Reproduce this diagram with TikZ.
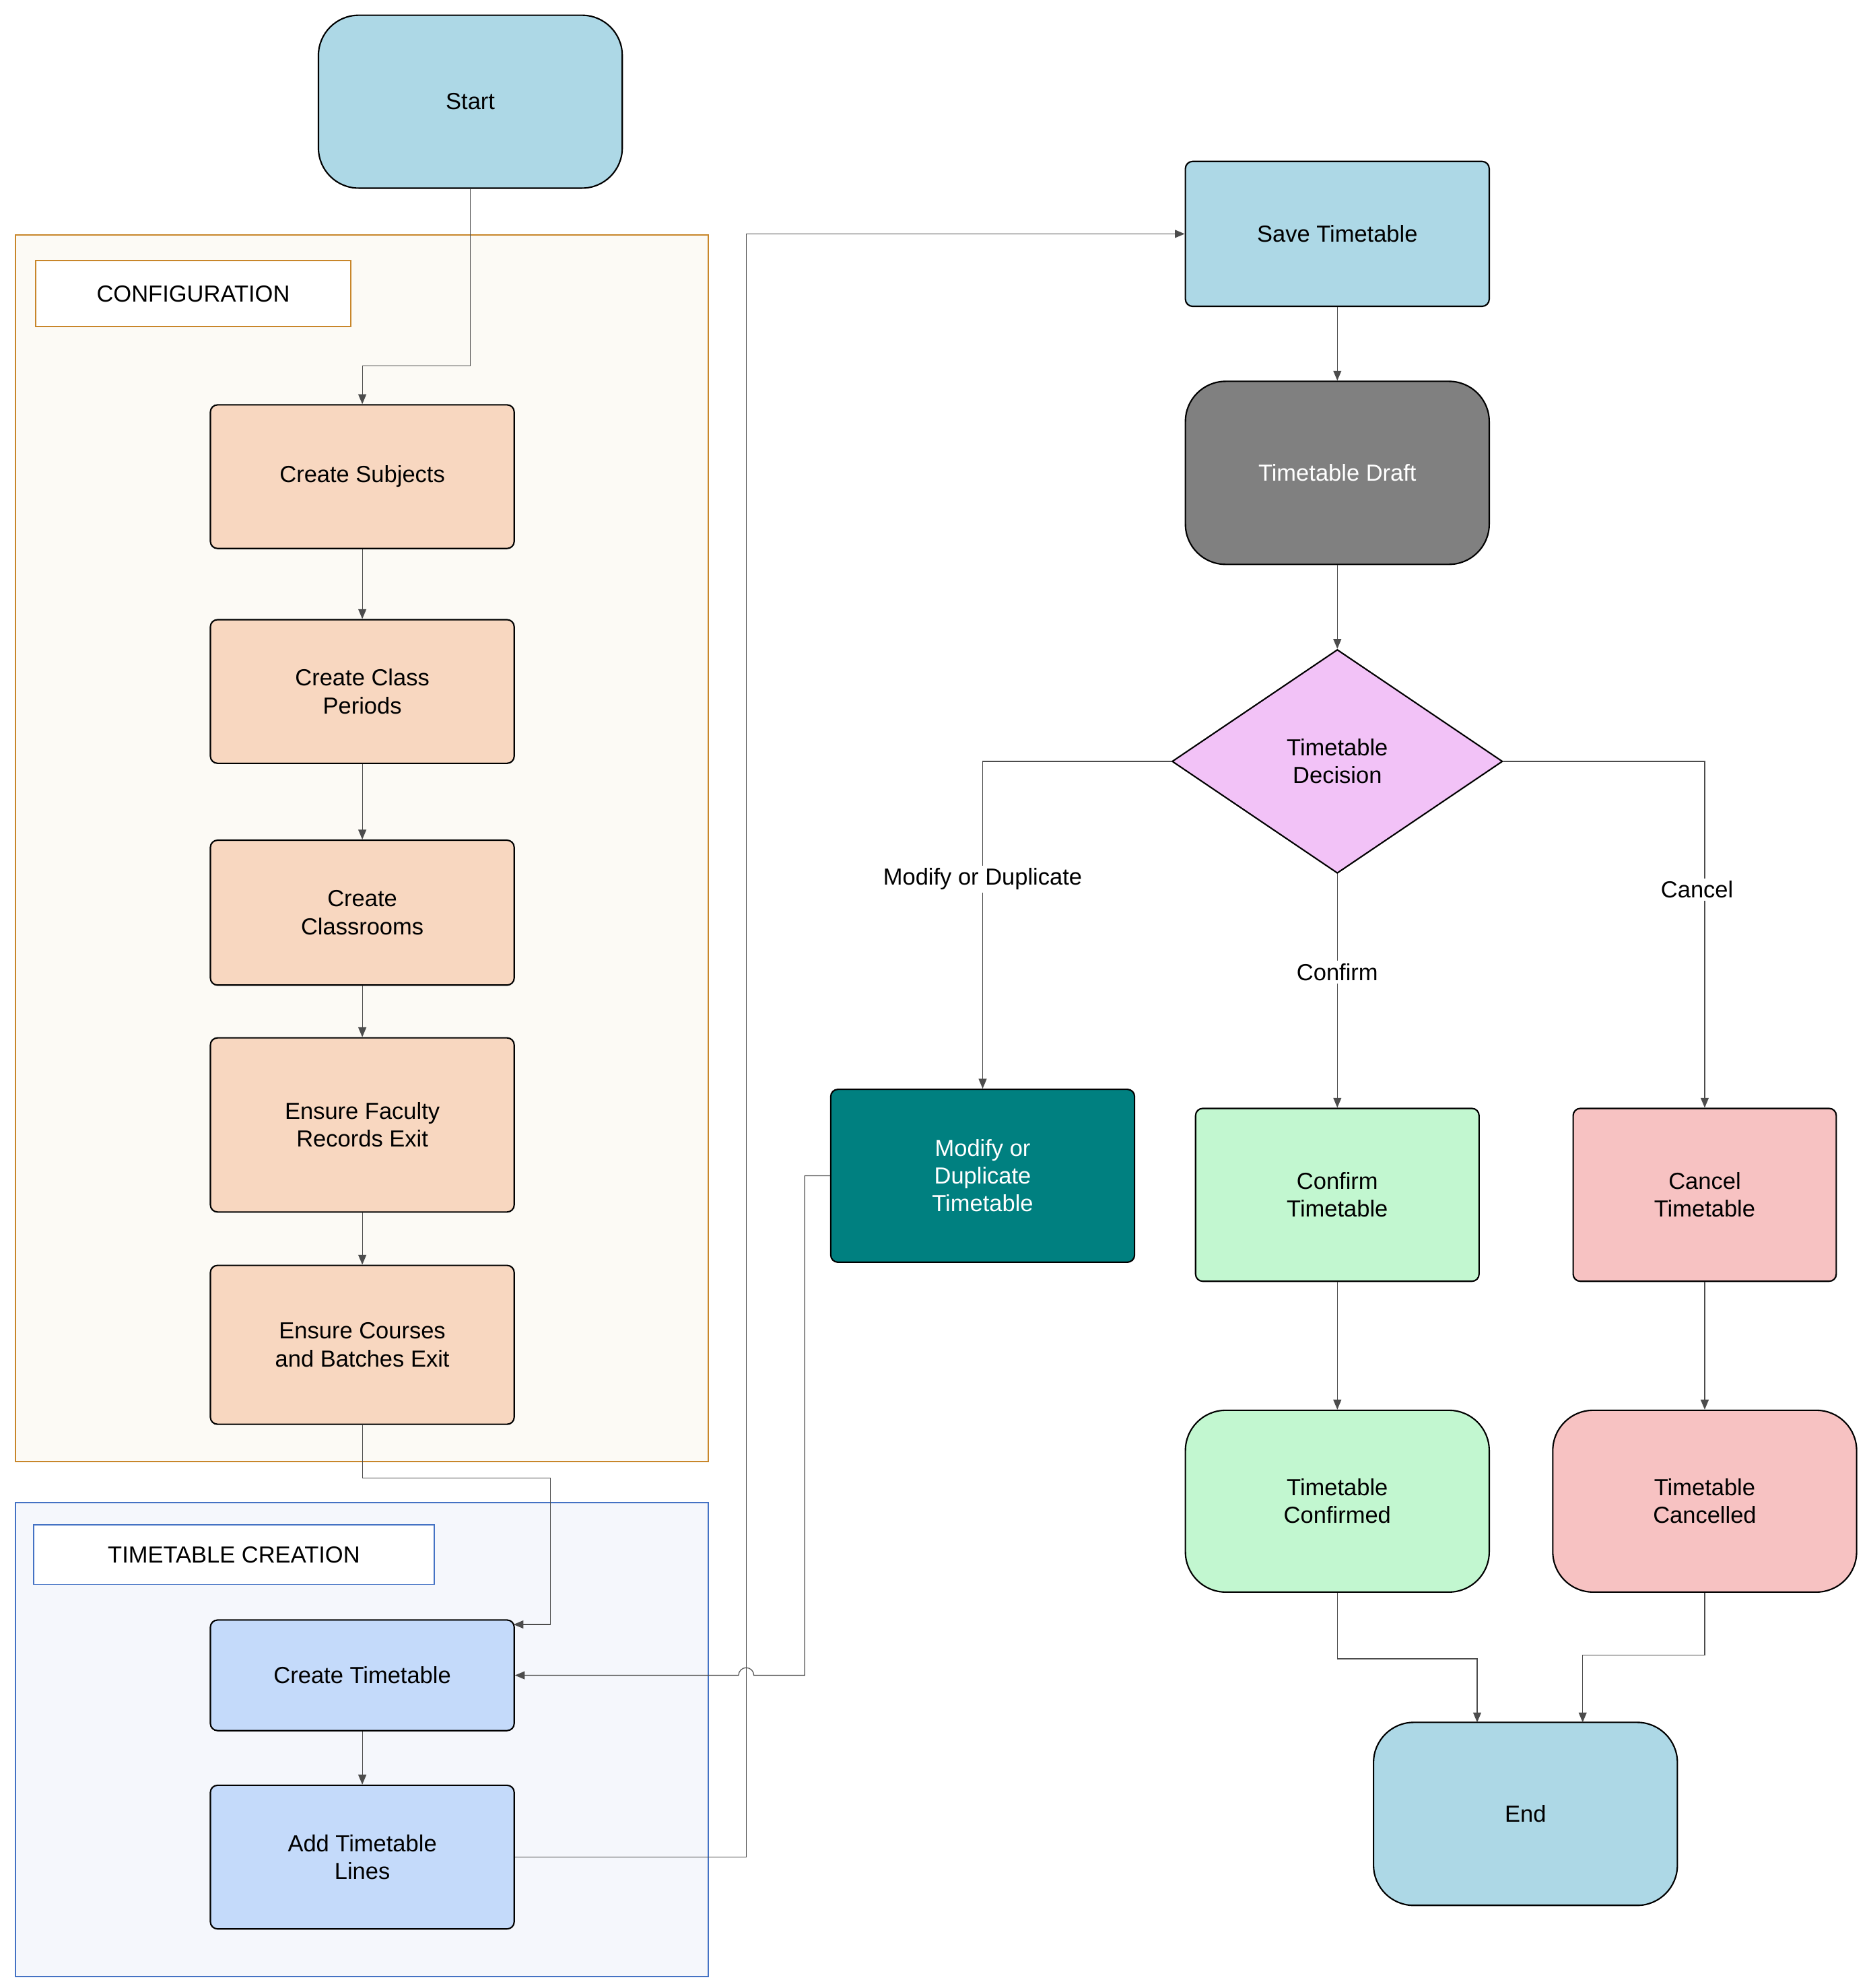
\documentclass[tikz,border=0pt]{standalone}
\usepackage{fontspec}
\setmainfont{Liberation Sans}
\usetikzlibrary{shapes.geometric,arrows.meta}
\begin{document}
\begin{tikzpicture}[x=0.05cm,y=-0.05cm,
  every node/.style={font=\fontsize{26}{31}\selectfont, align=center},
  box/.style={draw=black, line width=1.6pt, rounded corners=8pt, minimum width=239*0.05cm, inner sep=0pt},
  term/.style={draw=black, line width=1.6pt, rounded corners=45pt, minimum width=239*0.05cm, inner sep=0pt},
  edge/.style={draw=black!70, line width=0.9pt, -{Triangle[length=11pt,width=9pt]}},
  lab/.style={fill=white, inner sep=3pt}]
\fill[white] (0,0) rectangle (1470,1564);
\useasboundingbox (0,0) rectangle (1470,1564);
% groups
\draw[draw={rgb,255:red,200;green,134;blue,42}, fill={rgb,255:red,252;green,250;blue,245}, line width=1.3pt] (12,185) rectangle (557,1150);
\node[draw={rgb,255:red,200;green,134;blue,42}, line width=1.3pt, fill=white, minimum width=248*0.05cm, minimum height=52*0.05cm] (cfg) at (152,231) {CONFIGURATION};
\draw[draw={rgb,255:red,68;green,114;blue,196}, fill={rgb,255:red,245;green,247;blue,252}, line width=1.3pt] (12,1182) rectangle (557,1555);
\node[draw={rgb,255:red,68;green,114;blue,196}, line width=1.3pt, fill=white, minimum width=315*0.05cm, minimum height=47*0.05cm] (ttc) at (184,1223) {TIMETABLE CREATION};
% nodes
\definecolor{cpeach}{RGB}{248,215,192}
\definecolor{cblue}{RGB}{196,218,250}
\definecolor{clblue}{RGB}{173,216,230}
\node[term, fill=clblue, minimum height=136*0.05cm] (start) at (370,80) {Start};
\node[box, fill=cpeach, minimum height=113*0.05cm] (subj) at (285,375) {Create Subjects};
\node[box, fill=cpeach, minimum height=113*0.05cm] (per) at (285,544) {Create Class\\Periods};
\node[box, fill=cpeach, minimum height=114*0.05cm] (room) at (285,718) {Create\\Classrooms};
\node[box, fill=cpeach, minimum height=137*0.05cm] (fac) at (285,885) {Ensure Faculty\\Records Exit};
\node[box, fill=cpeach, minimum height=125*0.05cm] (crs) at (285,1058) {Ensure Courses\\and Batches Exit};
\node[box, fill=cblue, minimum height=87*0.05cm] (ct) at (285,1318) {Create Timetable};
\node[box, fill=cblue, minimum height=113*0.05cm] (add) at (285,1461) {Add Timetable\\Lines};
\node[box, fill=clblue, minimum height=114*0.05cm] (save) at (1052,184) {Save Timetable};
\node[term, fill={rgb,255:red,128;green,128;blue,128}, text=white, minimum height=144*0.05cm] (draft) at (1052,372) {Timetable Draft};
\node[diamond, draw=black, line width=1.6pt, fill={rgb,255:red,242;green,194;blue,247}, minimum width=260*0.05cm, minimum height=176*0.05cm, inner sep=0pt] (dec) at (1052,599) {Timetable\\Decision};
\node[box, fill={rgb,255:red,0;green,128;blue,128}, text=white, minimum height=136*0.05cm] (mod) at (773,925) {Modify or\\Duplicate\\Timetable};
\node[box, fill={rgb,255:red,194;green,247;blue,208}, minimum width=223*0.05cm, minimum height=136*0.05cm] (conf) at (1052,940) {Confirm\\Timetable};
\node[box, fill={rgb,255:red,247;green,194;blue,194}, minimum width=207*0.05cm, minimum height=136*0.05cm] (canc) at (1341,940) {Cancel\\Timetable};
\node[term, fill={rgb,255:red,194;green,247;blue,208}, minimum height=143*0.05cm] (confd) at (1052,1181) {Timetable\\Confirmed};
\node[term, fill={rgb,255:red,247;green,194;blue,194}, minimum height=143*0.05cm] (cancd) at (1341,1181) {Timetable\\Cancelled};
\node[term, fill=clblue, minimum height=144*0.05cm] (end) at (1200,1427) {End};
% edges
\draw[edge] (start.south) -- (370,288) -- (285,288) -- (subj.north);
\draw[edge] (subj) -- (per);
\draw[edge] (per) -- (room);
\draw[edge] (room) -- (fac);
\draw[edge] (fac) -- (crs);
\draw[edge] (crs.south) -- (285,1163) -- (433,1163) -- (433,1278) -- (404,1278);
\draw[edge] (ct) -- (add);
\draw[edge] (add.east) -- (587,1461) -- (587,184) -- (save.west);
\draw[edge] (mod.west) -- (633,925) -- (633,1318) -- (593,1318) arc[start angle=0, end angle=-180, radius=6] -- (ct.east);
\draw[edge] (save) -- (draft);
\draw[edge] (draft) -- (dec);
\draw[edge] (dec.west) -- (773,599) -- node[lab, pos=0.36]{Modify or Duplicate} (mod.north);
\draw[edge] (dec.south) -- node[lab, pos=0.42]{Confirm} (conf.north);
\draw[edge] (dec.east) -- (1341,599) -- node[lab, pos=0.37, xshift=-6*0.05cm]{Cancel} (canc.north);
\draw[edge] (conf) -- (confd);
\draw[edge] (canc) -- (cancd);
\draw[edge] (confd.south) -- (1052,1305) -- (1162,1305) -- (1162,1355);
\draw[edge] (cancd.south) -- (1341,1302) -- (1245,1302) -- (1245,1355);
\end{tikzpicture}
\end{document}
